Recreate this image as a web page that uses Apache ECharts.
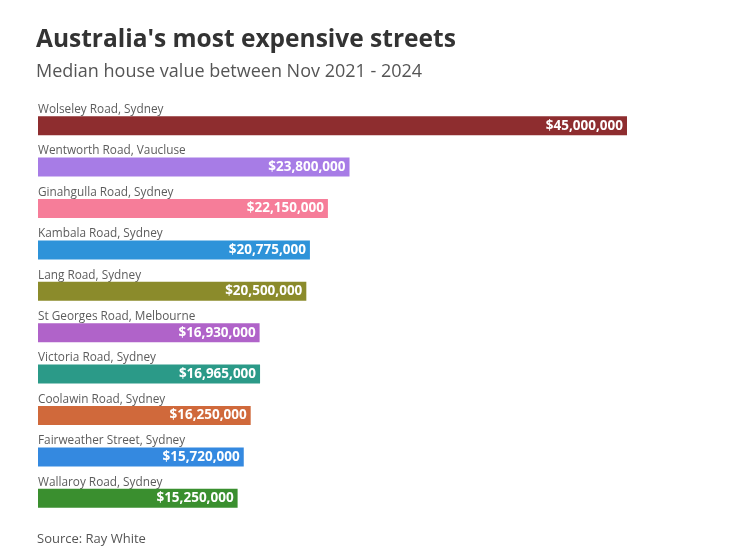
<!DOCTYPE html>
<html>
<head>
<meta charset="utf-8">
<script src="https://cdn.jsdelivr.net/npm/echarts@6/dist/echarts.min.js"></script>
<style>
  html, body { margin: 0; padding: 0; background: #fff; }
  #chart { width: 741px; height: 556px; }
</style>
</head>
<body>
<div id="chart"></div>
<script>
const streets = [
  'Wolseley Road, Sydney',
  'Wentworth Road, Vaucluse',
  'Ginahgulla Road, Sydney',
  'Kambala Road, Sydney',
  'Lang Road, Sydney',
  'St Georges Road, Melbourne',
  'Victoria Road, Sydney',
  'Coolawin Road, Sydney',
  'Fairweather Street, Sydney',
  'Wallaroy Road, Sydney'
];
const medianValues = [45000000, 23800000, 22150000, 20775000, 20500000, 16930000, 16965000, 16250000, 15720000, 15250000];
const barColors = ['#8e2d2f', '#a77ce6', '#f67d99', '#2e93d9', '#8b8b2b', '#b063c9', '#2b9a88', '#d0693b', '#3489e0', '#3a8f2f'];

const chart = echarts.init(document.getElementById('chart'));
const font = '"Open Sans", sans-serif';

chart.setOption({
  animation: false,
  textStyle: { fontFamily: font },
  title: [
    {
      text: "Australia's most expensive streets",
      left: 31, top: 23,
      textStyle: { fontSize: 24.5, fontWeight: 'bold', color: '#333', fontFamily: font }
    },
    {
      text: 'Median house value between Nov 2021 - 2024',
      left: 31, top: 58,
      textStyle: { fontSize: 18, fontWeight: 'normal', color: '#555', fontFamily: font }
    },
    {
      text: 'Source: Ray White',
      left: 32, top: 528,
      textStyle: { fontSize: 13, fontWeight: 'normal', color: '#555', fontFamily: font }
    }
  ],
  grid: { left: 38, right: 114, top: 105, bottom: 37 },
  xAxis: {
    type: 'value',
    min: 0,
    max: 45000000,
    show: false
  },
  yAxis: {
    type: 'category',
    data: streets,
    inverse: true,
    axisLine: { show: false },
    axisTick: { show: false },
    axisLabel: {
      inside: true,
      align: 'left',
      verticalAlign: 'bottom',
      margin: 0,
      padding: [0, 0, 10, 0],
      color: '#5c5c5c',
      fontSize: 11.8,
      fontFamily: font
    }
  },
  series: [{
    type: 'bar',
    data: medianValues.map((v, i) => ({ value: v, itemStyle: { color: barColors[i] } })),
    barWidth: 19,
    label: {
      show: true,
      position: 'insideRight',
      distance: 4,
      color: '#fff',
      fontWeight: 'bold',
      fontSize: 13.5,
      fontFamily: font,
      formatter: p => '$' + p.value.toLocaleString('en-US')
    }
  }]
});
</script>
</body>
</html>
